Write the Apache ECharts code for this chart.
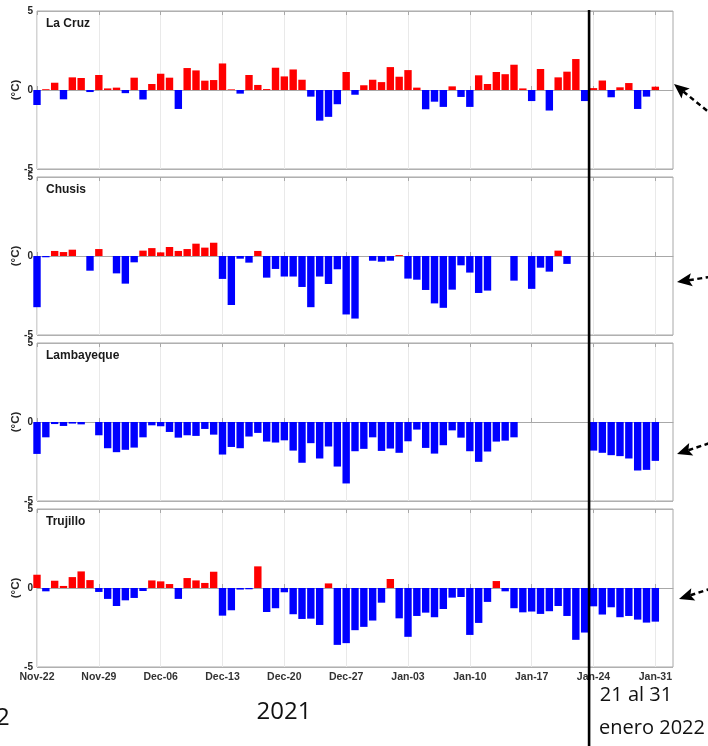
<!DOCTYPE html>
<html><head><meta charset="utf-8">
<script src="https://cdn.jsdelivr.net/npm/echarts@6/dist/echarts.min.js"></script>
<style>html,body{margin:0;padding:0;background:#fff;overflow:hidden}#c{width:708px;height:746px}</style>
</head><body><div id="c"></div><script>
// Tick labels (one every 7 days, day index 0 = Nov-22)
const tickLabels = ['Nov-22','Nov-29','Dec-06','Dec-13','Dec-20','Dec-27','Jan-03','Jan-10','Jan-17','Jan-24','Jan-31'];
const stations = ['La Cruz','Chusis','Lambayeque','Trujillo'];
const nDays = 73;          // axis spans day 0 .. day 72
const dividerDay = 62.5;   // vertical separator between the two periods

// Daily anomalies (°C), index 0..70 ; null = no data
const laCruz = [-0.95,0.05,0.46,-0.59,0.8,0.76,-0.13,0.95,0.1,0.15,
 -0.2,0.78,-0.6,0.38,1.03,0.78,-1.2,1.39,1.24,0.59,
 0.63,1.68,0.04,-0.23,0.95,0.32,0.06,1.41,0.86,1.3,
 0.65,-0.42,-1.94,-1.7,-0.9,1.14,-0.3,0.3,0.65,0.5,
 1.45,0.84,1.26,0.15,-1.22,-0.74,-1.07,0.23,-0.44,-1.07,
 0.93,0.38,1.14,1.0,1.6,0.1,-0.7,1.33,-1.3,0.8,
 1.16,1.96,-0.7,0.12,0.6,-0.46,0.17,0.44,-1.2,-0.42,0.21];
const chusis = [-3.24,-0.08,0.32,0.25,0.4,null,-0.93,0.44,null,-1.1,
 -1.75,-0.4,0.34,0.5,0.23,0.57,0.32,0.44,0.78,0.53,
 0.84,-1.45,-3.1,-0.17,-0.42,0.32,-1.37,-0.82,-1.3,-1.3,
 -1.96,-3.24,-1.3,-1.77,-0.84,-3.7,-3.96,null,-0.3,-0.36,
 -0.3,0.06,-1.43,-1.5,-2.15,-3.0,-3.28,-2.13,-0.59,-1.05,
 -2.34,-2.19,null,null,-1.56,null,-2.08,-0.74,-0.99,0.34,
 -0.5,null,null,null,null,null,null,null,null,null,null];
const lambayeque = [-2.02,-0.97,-0.13,-0.25,-0.1,-0.15,null,-0.84,-1.66,-1.91,
 -1.76,-1.62,-0.97,-0.21,-0.27,-0.63,-0.99,-0.84,-0.88,-0.44,
 -0.8,-2.06,-1.58,-1.66,-0.92,-0.69,-1.24,-1.3,-1.16,-1.81,
 -2.58,-1.34,-2.31,-1.55,-2.82,-3.89,-1.85,-1.7,-0.97,-1.83,
 -1.68,-1.95,-1.22,-0.48,-1.64,-2.0,-1.47,-0.53,-0.99,-1.85,
 -2.52,-1.87,-1.24,-1.18,-0.97,null,null,null,null,null,
 null,null,null,-1.81,-1.95,-2.1,-2.16,-2.31,-3.07,-3.03,-2.46];
const trujillo = [0.84,-0.21,0.46,0.13,0.69,1.05,0.5,-0.25,-0.69,-1.14,
 -0.78,-0.63,-0.19,0.48,0.42,0.25,-0.69,0.63,0.48,0.32,
 1.03,-1.75,-1.41,-0.1,-0.08,1.37,-1.52,-1.28,-0.27,-1.66,
 -1.96,-1.94,-2.34,0.29,-3.6,-3.49,-2.67,-2.46,-2.06,-0.93,
 0.57,-1.92,-3.09,-1.77,-1.56,-1.85,-1.33,-0.61,-0.57,-2.97,
 -2.21,-0.88,0.44,-0.21,-1.28,-1.54,-1.49,-1.64,-1.47,-1.14,
 -1.77,-3.28,-2.82,-1.16,-1.68,-1.22,-1.85,-1.77,-2.0,-2.19,-2.13];

const allData = [laCruz, chusis, lambayeque, trujillo];
const days = Array.from({length: nDays}, (_, d) => String(d));
const FONT = 'Liberation Sans';
const tops = [11, 177, 343, 509];
const H = 158;

const grids = [], xAxes = [], yAxes = [], series = [], titles = [];
const catAxis = (i, pos, showLab) => ({type: 'category', gridIndex: i, position: pos, data: days, boundaryGap: false,
  axisLine: {show: pos === 'bottom', lineStyle: {color: '#a8a8a8'}},
  axisTick: {show: true, inside: true, length: 4, interval: 6, alignWithLabel: true, lineStyle: {color: '#a8a8a8'}},
  axisLabel: {show: showLab, interval: 6, margin: 5, fontFamily: FONT, fontWeight: 'bold', fontSize: 10.5, color: '#333',
    formatter: v => (+v % 7 === 0 && tickLabels[+v / 7]) ? tickLabels[+v / 7] : ''},
  splitLine: {show: pos === 'bottom', interval: 6, lineStyle: {color: '#e9e9e9', width: 1}}});

allData.forEach((vals, i) => {
  grids.push({left: 37, width: 636, top: tops[i], height: H, show: true, containLabel: false, outerBoundsMode: 'none',
    borderColor: '#a8a8a8', borderWidth: 1, backgroundColor: '#fff'});
  xAxes.push(catAxis(i, 'bottom', i === 3));
  xAxes.push(catAxis(i, 'top', false));
  yAxes.push({type: 'value', gridIndex: i, min: -5, max: 5, interval: 5,
    axisLine: {show: false},
    axisTick: {show: true, inside: true, length: 3, lineStyle: {color: '#a8a8a8'}},
    axisLabel: {margin: 4, fontFamily: FONT, fontWeight: 'bold', fontSize: 10, color: '#262626'},
    splitLine: {show: true, lineStyle: {color: '#b0b0b0', width: 1}},
    name: '(°C)', nameLocation: 'middle', nameRotate: 90, nameGap: 15, nameMoveOverlap: false,
    nameTextStyle: {fontFamily: FONT, fontWeight: 'bold', fontSize: 11.5, color: '#262626'}});
  series.push({type: 'bar', xAxisIndex: 2 * i, yAxisIndex: i, barWidth: 7.4, clip: true,
    data: days.map((_, d) => (vals[d] === undefined || vals[d] === null) ? null : vals[d]),
    itemStyle: {color: p => p.value >= 0 ? '#ff0000' : '#0000ff'}});
  titles.push({text: stations[i], left: 46, top: tops[i] + 7, padding: 0,
    textStyle: {fontFamily: FONT, fontWeight: 'bold', fontSize: 12, color: '#1a1a1a'}});
});

const chart = echarts.init(document.getElementById('c'), null, {renderer: 'canvas'});
chart.setOption({animation: false, backgroundColor: '#fff', title: titles,
  grid: grids, xAxis: xAxes, yAxis: yAxes, series: series});

const pA = chart.convertToPixel({xAxisIndex: 0}, Math.floor(dividerDay));
const pB = chart.convertToPixel({xAxisIndex: 0}, Math.ceil(dividerDay));
const xLine = pA + (pB - pA) * (dividerDay - Math.floor(dividerDay));

function arrow(tip, tail) {
  const dx = tail[0] - tip[0], dy = tail[1] - tip[1];
  const L = Math.hypot(dx, dy), ux = dx / L, uy = dy / L, px = -uy, py = ux;
  const hl = 15, hw = 6.5;
  const b = [tip[0] + ux * hl, tip[1] + uy * hl];
  const n = [tip[0] + ux * hl * 0.8, tip[1] + uy * hl * 0.8];
  return [
    {type: 'line', z: 100, shape: {x1: n[0], y1: n[1], x2: tail[0], y2: tail[1]},
      style: {stroke: '#000', lineWidth: 2.5, lineDash: [5, 3.5]}},
    {type: 'polygon', z: 101, shape: {points: [tip, [b[0] + px * hw, b[1] + py * hw], n, [b[0] - px * hw, b[1] - py * hw]]},
      style: {fill: '#000'}}
  ];
}
const txt = (t, x, y, size, align) => ({type: 'text', z: 100, x: x, y: y,
  style: {text: t, fontSize: size, fontFamily: 'Open Sans', fill: '#111', textAlign: align || 'center', textVerticalAlign: 'middle'}});

chart.setOption({graphic: [
  {type: 'line', z: 99, shape: {x1: xLine, y1: 10, x2: xLine, y2: 746}, style: {stroke: '#000', lineWidth: 2.6}},
  ...arrow([674, 84], [716, 118]),
  ...arrow([677, 282], [716, 276]),
  ...arrow([677, 454], [716, 441]),
  ...arrow([679, 599], [716, 587]),
  txt('2021', 284, 712, 24),
  txt('21 al 31', 636, 695, 20),
  txt('enero 2022', 652, 728, 20),
  txt('2', -4, 718, 24, 'left')
]});
</script></body></html>
